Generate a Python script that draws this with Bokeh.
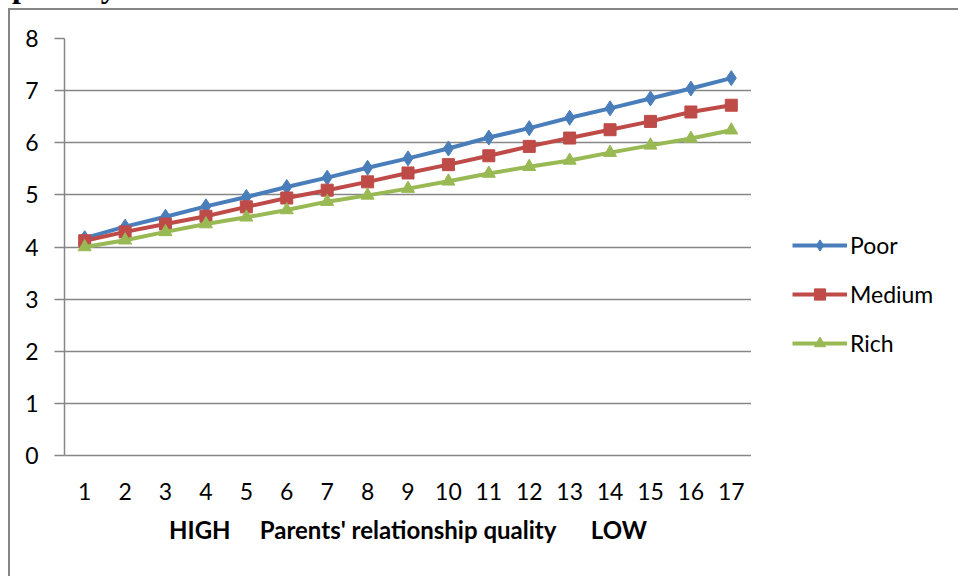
from bokeh.plotting import figure
from bokeh.models import FactorRange, Range1d, Legend, LegendItem, FixedTicker, Spacer, Div
from bokeh.layouts import column, row
from bokeh.embed import file_html
from bokeh.resources import INLINE

categories = [str(i) for i in range(1, 18)]
poor = [4.17, 4.39, 4.58, 4.78, 4.96, 5.15, 5.33, 5.52, 5.70, 5.89, 6.10, 6.28, 6.48, 6.66, 6.85, 7.04, 7.24]
medium = [4.12, 4.29, 4.44, 4.59, 4.77, 4.94, 5.09, 5.25, 5.42, 5.58, 5.75, 5.93, 6.09, 6.25, 6.41, 6.59, 6.72]
rich = [4.00, 4.13, 4.29, 4.44, 4.57, 4.71, 4.87, 4.99, 5.12, 5.26, 5.41, 5.54, 5.66, 5.81, 5.95, 6.08, 6.24]
series_names = ["Poor", "Medium", "Rich"]
y_ticks = [0, 1, 2, 3, 4, 5, 6, 7, 8]
x_title = "HIGH     Parents' relationship quality      LOW"
top_caption = "poverty ratio"

FONT = "Lato"
FS = "23px"
GRAY = "#868686"

p = figure(width=741, height=566, x_range=FactorRange(*categories, range_padding=0),
           y_range=Range1d(0, 8), output_backend="svg", toolbar_location=None,
           min_border_left=54, min_border_right=0, min_border_top=28, min_border_bottom=121)
p.outline_line_color = None
p.background_fill_color = "white"
p.border_fill_color = "white"

p.xgrid.grid_line_color = None
p.ygrid.grid_line_color = GRAY
p.ygrid.grid_line_width = 1.5
p.yaxis.ticker = FixedTicker(ticks=y_ticks)
p.yaxis.axis_line_color = GRAY
p.yaxis.axis_line_width = 1.5
p.yaxis.major_tick_line_color = GRAY
p.yaxis.major_tick_line_width = 1.5
p.yaxis.major_tick_out = 10
p.yaxis.major_tick_in = 0
p.yaxis.minor_tick_line_color = None
p.yaxis.major_label_text_font = FONT
p.yaxis.major_label_text_font_size = FS
p.yaxis.major_label_text_color = "black"
p.yaxis.major_label_standoff = 16

p.xaxis.axis_line_color = GRAY
p.xaxis.axis_line_width = 1.5
p.xaxis.major_tick_line_color = None
p.xaxis.minor_tick_line_color = None
p.xaxis.major_label_text_font = FONT
p.xaxis.major_label_text_font_size = FS
p.xaxis.major_label_text_color = "black"
p.xaxis.major_label_standoff = 21
p.xaxis.axis_label = x_title.replace(" ", "\u00a0")
p.xaxis.axis_label_text_font = FONT
p.xaxis.axis_label_text_font_size = "24px"
p.xaxis.axis_label_text_font_style = "bold"
p.xaxis.axis_label_text_color = "black"
p.xaxis.axis_label_standoff = 12

colors = ["#4A7EBB", "#BE4B48", "#98B954"]
markers = ["diamond", "square", "triangle"]
sizes = [15, 12, 13]
series = [poor, medium, rich]
for name, vals, c, m, s in zip(series_names, series, colors, markers, sizes):
    p.line(categories, vals, line_color=c, line_width=4)
    p.scatter(categories, vals, marker=m, size=s, fill_color=c, line_color=c)

# legend panel to the right of the plot area (its own series copies lie outside its view)
lp = figure(width=207, height=566, x_range=Range1d(0, 1), y_range=Range1d(0, 1),
            output_backend="svg", toolbar_location=None, x_axis_location=None,
            y_axis_location=None, min_border=0)
lp.outline_line_color = None
lp.grid.visible = False
idx = list(range(1, len(categories) + 1))
items = []
for name, vals, c, m in zip(series_names, series, colors, markers):
    ln = lp.line(idx, vals, line_color=c, line_width=4)
    sc = lp.scatter(idx, vals, marker=m, size=10, fill_color=c, line_color=c)
    items.append(LegendItem(label=name, renderers=[ln, sc]))
legend = Legend(items=items, location=(41, 98), glyph_width=55, glyph_height=28,
                spacing=21, padding=0, margin=0, label_standoff=3,
                label_text_font=FONT, label_text_font_size=FS, label_text_color="black",
                border_line_color=None, background_fill_alpha=0)
lp.add_layout(legend)

top_bar = Spacer(width=950, height=2, styles={"background-color": GRAY})
left_bar = Spacer(width=2, height=566, styles={"background-color": GRAY})
chart = column(top_bar, row(left_bar, p, lp, spacing=0), spacing=0)

caption = Div(text=('<div style="position:relative; top:-30px; margin-left:12px; height:0px; '
                    'font-family:\'Liberation Serif\'; font-weight:bold; font-size:32px; '
                    'line-height:32px; white-space:nowrap; color:black;">'
                    + top_caption + '</div>'),
              width=958, height=8, margin=0,
              styles={"overflow": "hidden", "height": "8px", "max-height": "8px"})
layout = column(caption, row(Spacer(width=8, height=568), chart, spacing=0), spacing=0)

open("out.html", "w").write(file_html(layout, INLINE))
